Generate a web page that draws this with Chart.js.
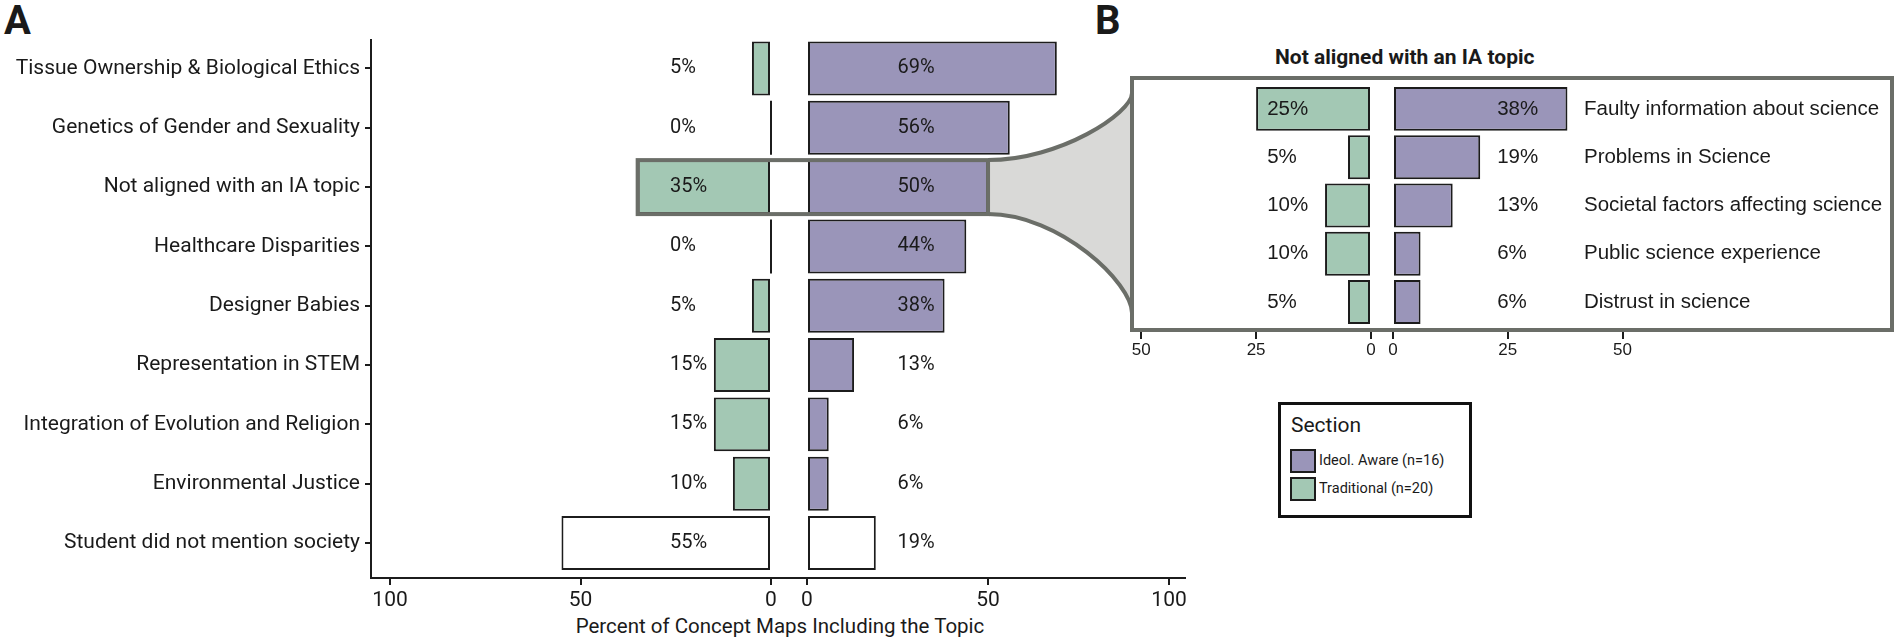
<!DOCTYPE html>
<html>
<head>
<meta charset="utf-8">
<script src="https://cdn.jsdelivr.net/npm/chart.js@4.4.1/dist/chart.umd.min.js"></script>
<style>
html, body { margin: 0; padding: 0; background: #fff; }
body { width: 1902px; height: 644px; position: relative; overflow: hidden; font-family: Roboto, sans-serif; color: #1a1a1a; }
.wrap { position: absolute; }
.txt { position: absolute; white-space: nowrap; }
#overlay { position: absolute; left: 0; top: 0; pointer-events: none; z-index: 5; }
.key { position: absolute; left: 9px; width: 22px; height: 20px; border: 2px solid #1c1c1c; }
</style>
</head>
<body>
<div class="txt" style="left:4px;top:1px;font:bold 40px/40px Roboto">A</div>
<div class="txt" style="left:1095px;top:1px;font:bold 40px/40px Roboto">B</div>
<div class="txt" style="left:1275px;top:47px;font:bold 21px/21px Roboto">Not aligned with an IA topic</div>
<div class="txt" style="left:380px;width:800px;text-align:center;top:616px;font:20.5px/20.5px Roboto">Percent of Concept Maps Including the Topic</div>

<div class="wrap" style="left:0;top:0;width:790px;height:644px"><canvas id="aTrad"></canvas></div>
<div class="wrap" style="left:780px;top:0;width:421px;height:644px"><canvas id="aIdeol"></canvas></div>
<div class="wrap" style="left:1100px;top:0;width:281px;height:380px"><canvas id="bTrad"></canvas></div>
<div class="wrap" style="left:1380px;top:0;width:520px;height:380px"><canvas id="bIdeol"></canvas></div>

<div class="wrap" style="left:1278px;top:402px;width:188px;height:110px;border:3px solid #111">
  <div class="txt" style="left:10px;top:10px;font:21px/21px Roboto">Section</div>
  <div class="key" style="top:44px;background:#9a95b9"></div>
  <div class="txt" style="left:38px;top:49px;font:14.5px/14.5px Roboto">Ideol. Aware (n=16)</div>
  <div class="key" style="top:72px;background:#a3c8b4"></div>
  <div class="txt" style="left:38px;top:77px;font:14.5px/14.5px Roboto">Traditional (n=20)</div>
</div>

<canvas id="overlay"></canvas>

<script>
// panel A: share of concept maps mentioning each topic
const topics = [
    "Tissue Ownership & Biological Ethics",
    "Genetics of Gender and Sexuality",
    "Not aligned with an IA topic",
    "Healthcare Disparities",
    "Designer Babies",
    "Representation in STEM",
    "Integration of Evolution and Religion",
    "Environmental Justice",
    "Student did not mention society"
];
const traditional = [5, 0, 35, 0, 5, 15, 15, 10, 55];
const ideolAware = [69, 56, 50, 44, 38, 13, 6, 6, 19];
const ticksA = [0, 50, 100];

// panel B: breakdown of "Not aligned with an IA topic"
const subTopics = [
    "Faulty information about science",
    "Problems in Science",
    "Societal factors affecting science",
    "Public science experience",
    "Distrust in science"
];
const subTraditional = [25, 5, 10, 10, 5];
const subIdeolAware = [38, 19, 13, 6, 6];
const ticksB = [0, 25, 50];

const GREEN = "#a3c8b4", PURPLE = "#9a95b9", EDGE = "#1c1c1c", INK = "#1a1a1a";
const GREY = "#6b6e68", FUNNEL = "#d9d9d7";

// last row of panel A ("did not mention society") is drawn white
function fills(n, colour, lastWhite) {
    return Array.from({ length: n }, (_, i) => (lastWhite && i === n - 1) ? "#ffffff" : colour);
}

// value labels, zero-width bars and the inset's row names
const marksPlugin = {
    id: "marks",
    afterDatasetsDraw(chart, args, opts) {
        const ctx = chart.ctx, xs = chart.scales.x;
        const bars = chart.getDatasetMeta(0).data;
        const vals = chart.data.datasets[0].data;
        ctx.save();
        ctx.strokeStyle = EDGE;
        ctx.lineWidth = 2;
        bars.forEach((bar, i) => {
            if (vals[i] !== 0) return;
            const x = xs.getPixelForValue(0);
            ctx.beginPath();
            ctx.moveTo(x, bar.y - bar.height / 2);
            ctx.lineTo(x, bar.y + bar.height / 2);
            ctx.stroke();
        });
        ctx.fillStyle = INK;
        ctx.textAlign = "left";
        ctx.textBaseline = "middle";
        ctx.font = opts.font;
        bars.forEach((bar, i) => ctx.fillText(vals[i] + "%", xs.getPixelForValue(opts.labelAt), bar.y));
        if (opts.names) {
            ctx.font = opts.nameFont;
            bars.forEach((bar, i) => ctx.fillText(opts.names[i], xs.getPixelForValue(opts.nameAt), bar.y));
        }
        ctx.restore();
    }
};

function makeChart(id, o) {
    return new Chart(document.getElementById(id), {
        type: "bar",
        data: {
            labels: o.labels,
            datasets: [{
                data: o.data,
                backgroundColor: o.fill,
                borderColor: EDGE,
                borderWidth: 2,
                borderSkipped: false,
                barPercentage: 0.91,
                categoryPercentage: 1
            }]
        },
        options: {
            indexAxis: "y",
            responsive: true,
            maintainAspectRatio: false,
            animation: false,
            layout: { padding: o.pad },
            plugins: { legend: { display: false }, tooltip: { enabled: false }, marks: o.marks },
            scales: {
                x: {
                    type: "linear", min: 0, max: o.max, reverse: o.reverse,
                    afterBuildTicks: s => { s.ticks = o.ticks.map(v => ({ value: v })); },
                    afterFit: s => { s.height = o.xh; },
                    border: { display: o.xBorder, color: EDGE, width: 2 },
                    grid: { drawOnChartArea: false, drawTicks: true, tickLength: o.tl, color: EDGE, lineWidth: 2 },
                    ticks: { font: o.tickFont, color: INK, padding: o.tp, maxRotation: 0, autoSkip: false }
                },
                y: {
                    type: "category", display: o.showY, offset: true,
                    // ggplot-style expansion: a bit more room under the last row
                    afterBuildTicks: s => {
                        s._startValue = -o.expand[0];
                        s._valueRange = o.labels.length - 1 + o.expand[0] + o.expand[1];
                    },
                    afterFit: s => { if (o.showY) s.width = o.yw; },
                    border: { display: true, color: EDGE, width: 2 },
                    grid: { offset: false, drawOnChartArea: false, tickLength: 6, color: EDGE, lineWidth: 2 },
                    ticks: { font: { family: "Roboto", size: 21 }, color: INK, padding: 5 }
                }
            }
        },
        plugins: [marksPlugin]
    });
}

const fontA = { family: "Roboto", size: 21 };
const fontB = { family: "'Liberation Sans', Arial", size: 17 };
const labelB = "20.5px 'Liberation Sans', Arial";

const aTrad = makeChart("aTrad", {
    labels: topics, data: traditional, fill: fills(topics.length, GREEN, true),
    max: 105, reverse: true, ticks: ticksA, xh: 66, tl: 7, tp: 3, xBorder: true, tickFont: fontA,
    showY: true, yw: 371, expand: [0.48, 0.59],
    pad: { left: 0, top: 40, right: 19, bottom: 0 },
    marks: { labelAt: 26.5, font: "20px Roboto" }
});
const aIdeol = makeChart("aIdeol", {
    labels: topics, data: ideolAware, fill: fills(topics.length, PURPLE, true),
    max: 104.4, reverse: false, ticks: ticksA, xh: 66, tl: 7, tp: 3, xBorder: true, tickFont: fontA,
    showY: false, expand: [0.48, 0.59],
    pad: { left: 27, top: 40, right: 16, bottom: 0 },
    marks: { labelAt: 25, font: "20px Roboto" }
});
const bTrad = makeChart("bTrad", {
    labels: subTopics, data: subTraditional, fill: fills(subTopics.length, GREEN, false),
    max: 52, reverse: true, ticks: ticksB, xh: 50, tl: 9, tp: 1, xBorder: false, tickFont: fontB,
    showY: false, expand: [0.64, 0.58],
    pad: { left: 32, top: 78, right: 10, bottom: 0 },
    marks: { labelAt: 22.6, font: labelB }
});
const bIdeol = makeChart("bIdeol", {
    labels: subTopics, data: subIdeolAware, fill: fills(subTopics.length, PURPLE, false),
    max: 108.7, reverse: false, ticks: ticksB, xh: 50, tl: 9, tp: 1, xBorder: false, tickFont: fontB,
    showY: false, expand: [0.64, 0.58],
    pad: { left: 13, top: 78, right: 8, bottom: 0 },
    marks: { labelAt: 22.7, font: labelB, names: subTopics, nameAt: 41.6, nameFont: labelB }
});

// overlay: axis gap, highlight, zoom funnel and inset frame
function pageArea(chart) {
    const r = chart.canvas.getBoundingClientRect(), a = chart.chartArea;
    return { left: r.left + a.left, right: r.left + a.right, top: r.top + a.top, bottom: r.top + a.bottom, dx: r.left, dy: r.top };
}

const ov = document.getElementById("overlay");
const dpr = window.devicePixelRatio || 1;
ov.width = 1902 * dpr; ov.height = 644 * dpr;
ov.style.width = "1902px"; ov.style.height = "644px";
const g = ov.getContext("2d");
g.scale(dpr, dpr);

const aL = pageArea(aTrad), aR = pageArea(aIdeol), bL = pageArea(bTrad), bR = pageArea(bIdeol);

g.strokeStyle = EDGE;
g.lineWidth = 2;
g.beginPath();
g.moveTo(aL.right - 1, Math.round(aL.bottom));
g.lineTo(aR.left + 1, Math.round(aR.bottom));
g.stroke();

const k = topics.indexOf("Not aligned with an IA topic");
const barL = aTrad.getDatasetMeta(0).data[k], barR = aIdeol.getDatasetMeta(0).data[k];
const hl = Math.min(barL.x, barL.base) + aL.dx;
const hr = Math.max(barR.x, barR.base) + aR.dx;
const ht = barL.y - barL.height / 2 + aL.dy;
const hb = barL.y + barL.height / 2 + aL.dy;

const bx = bL.left, by = bL.top, bw = bR.right - bL.left, bb = bL.bottom;
const endTop = by + 15, endBot = bb - 17;
const midX = hr + 0.5 * (bx - hr);

g.beginPath();
g.moveTo(hr, ht);
g.bezierCurveTo(midX, ht, bx, endTop + 0.3 * (ht - endTop), bx, endTop);
g.lineTo(bx, endBot);
g.bezierCurveTo(bx, endBot - 0.3 * (endBot - hb), midX, hb, hr, hb);
g.closePath();
g.fillStyle = FUNNEL;
g.fill();

g.strokeStyle = GREY;
g.lineWidth = 4;
g.beginPath();
g.moveTo(hr, ht);
g.bezierCurveTo(midX, ht, bx, endTop + 0.3 * (ht - endTop), bx, endTop);
g.moveTo(hr, hb);
g.bezierCurveTo(midX, hb, bx, endBot - 0.3 * (endBot - hb), bx, endBot);
g.stroke();

g.strokeRect(hl, ht, hr - hl, hb - ht);
g.strokeRect(bx, by, bw, bb - by);
</script>
</body>
</html>
